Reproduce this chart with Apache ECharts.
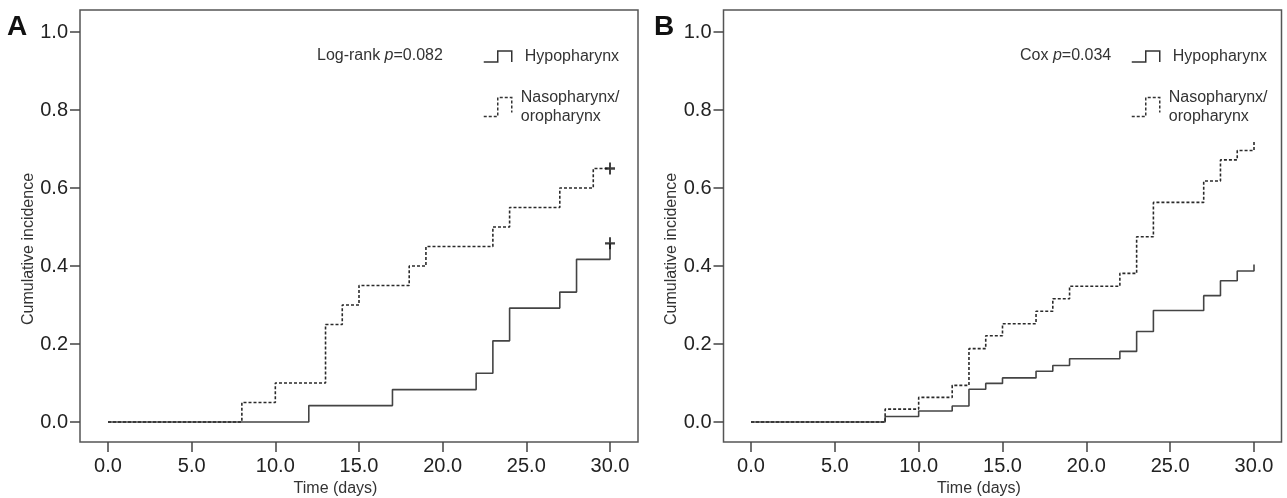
<!DOCTYPE html>
<html>
<head>
<meta charset="utf-8">
<script src="https://cdn.jsdelivr.net/npm/echarts@6/dist/echarts.min.js"></script>
<style>
  html, body { margin: 0; padding: 0; background: #fff; }
  #chart { width: 1287px; height: 498px; }
</style>
</head>
<body>
<div id="chart"></div>
<script>
// Panel A: Log-rank
const aHypoTime = [0, 12, 17, 22, 23, 24, 27, 28, 30];
const aHypoInc = [0, 0.042, 0.083, 0.125, 0.208, 0.292, 0.333, 0.417, 0.458];
const aNasoTime = [0, 8, 10, 13, 14, 15, 18, 19, 23, 24, 27, 29, 30];
const aNasoInc = [0, 0.05, 0.10, 0.25, 0.30, 0.35, 0.40, 0.45, 0.50, 0.55, 0.60, 0.65, 0.65];
const aCensored = [[30, 0.458], [30, 0.65]];

// Panel B: Cox
const bHypoTime = [0, 8, 10, 12, 13, 14, 15, 17, 18, 19, 22, 23, 24, 27, 28, 29, 30];
const bHypoInc = [0, 0.014, 0.028, 0.041, 0.084, 0.099, 0.113, 0.130, 0.145, 0.162, 0.181, 0.232, 0.286, 0.324, 0.362, 0.387, 0.404];
const bNasoTime = [0, 8, 10, 12, 13, 14, 15, 17, 18, 19, 22, 23, 24, 27, 28, 29, 30];
const bNasoInc = [0, 0.033, 0.063, 0.094, 0.188, 0.221, 0.252, 0.284, 0.316, 0.348, 0.381, 0.475, 0.563, 0.618, 0.672, 0.696, 0.722];

// tick labels
const xTickValues = [0, 5, 10, 15, 20, 25, 30];
const yTickValues = [0, 0.2, 0.4, 0.6, 0.8, 1.0];

const FONT = 'Liberation Sans, Arial, sans-serif';
const INK = '#333';
const plusPath = 'path://M4,0 L6,0 L6,4 L10,4 L10,6 L6,6 L6,10 L4,10 L4,6 L0,6 L0,4 L4,4 Z';
const solidIcon = 'path://M0,11 L14,11 L14,0 L28,0 L28,11';
const dashIcon = 'path://M0,19 L14,19 L14,0 L28,0 L28,15';

const zip = (t, v) => t.map((x, i) => [x, v[i]]);

let chart = echarts.init(document.getElementById('chart'), null, { renderer: 'canvas' });

// the grid border is the box round each panel; axes are padded so 0..30 / 0..1 sit inside
const grids = [
  { left: 80, top: 10, width: 558, height: 432, outerBoundsMode: 'none', show: true, borderColor: '#555', borderWidth: 1.5, backgroundColor: 'transparent' },
  { left: 723.5, top: 10, width: 558, height: 432, outerBoundsMode: 'none', show: true, borderColor: '#555', borderWidth: 1.5, backgroundColor: 'transparent' }
];

function xAxisFor(gi, min, max) {
  return {
    type: 'value', gridIndex: gi, min, max,
    name: 'Time (days)', nameLocation: 'middle', nameGap: 38,
    nameTextStyle: { fontFamily: FONT, fontSize: 16, color: INK, padding: [0, 47, 0, 0] },
    axisLine: { show: false, onZero: false },
    axisTick: { show: true, length: 10, customValues: xTickValues, lineStyle: { color: '#444', width: 1.5 } },
    axisLabel: { fontFamily: FONT, fontSize: 20, color: '#222', margin: 14, customValues: xTickValues, formatter: v => v.toFixed(1) },
    splitLine: { show: false }
  };
}
function yAxisFor(gi) {
  return {
    type: 'value', gridIndex: gi, min: -0.0513, max: 1.0564,
    name: 'Cumulative incidence', nameLocation: 'middle', nameGap: 42,
    nameTextStyle: { fontFamily: FONT, fontSize: 16, color: INK, padding: [0, 46, 0, 0] },
    axisLine: { show: false, onZero: false },
    axisTick: { show: true, length: 10, customValues: yTickValues, lineStyle: { color: '#444', width: 1.5 } },
    axisLabel: { fontFamily: FONT, fontSize: 20, color: '#222', margin: 12, customValues: yTickValues, formatter: v => v.toFixed(1) },
    splitLine: { show: false }
  };
}

function stepLine(name, data, gi, dashed) {
  return {
    type: 'line', name, xAxisIndex: gi, yAxisIndex: gi, data, step: 'end',
    symbol: 'none', silent: true, z: dashed ? 3 : 2,
    lineStyle: { color: dashed ? '#2a2a2a' : '#444', width: 1.6, type: dashed ? [3, 2] : 'solid' }
  };
}

function legendFor(left, top, name, icon, w, h, dashed, gap) {
  return {
    left, top, padding: 0, orient: 'vertical', selectedMode: false,
    data: [name], icon, itemWidth: w, itemHeight: h,
    itemStyle: { color: 'transparent', borderColor: '#333', borderWidth: 1.5, borderType: dashed ? [3, 2] : 'solid' },
    textStyle: { fontFamily: FONT, fontSize: 16, color: INK, lineHeight: 19, padding: [0, 0, 0, gap] }
  };
}

const annStyle = {
  fontFamily: FONT, fontSize: 16, color: INK, fontWeight: 'normal',
  rich: {
    a: { fontFamily: FONT, fontSize: 16, color: INK, fontWeight: 'normal' },
    i: { fontFamily: FONT, fontSize: 16, color: INK, fontWeight: 'normal', fontStyle: 'italic' }
  }
};

chart.setOption({
  animation: false,
  backgroundColor: '#fff',
  title: [
    { text: 'A', left: 7, top: 13, padding: 0, textStyle: { fontFamily: FONT, fontSize: 28, fontWeight: 'bold', color: '#111' } },
    { text: 'B', left: 654, top: 13, padding: 0, textStyle: { fontFamily: FONT, fontSize: 28, fontWeight: 'bold', color: '#111' } },
    { text: '{a|Log-rank }{i|p}{a|=0.082}', left: 317, top: 48, padding: 0, textStyle: annStyle },
    { text: '{a|Cox }{i|p}{a|=0.034}', left: 1020, top: 48, padding: 0, textStyle: annStyle }
  ],
  legend: [
    legendFor(483, 47, 'Hypopharynx', solidIcon, 28, 11, false, 8),
    legendFor(483, 88, 'Nasopharynx/\noropharynx', dashIcon, 28, 19, true, 4),
    legendFor(1131, 47, 'Hypopharynx', solidIcon, 28, 11, false, 8),
    legendFor(1131, 88, 'Nasopharynx/\noropharynx', dashIcon, 28, 19, true, 4)
  ],
  grid: grids,
  xAxis: [xAxisFor(0, -1.673, 31.673), xAxisFor(1, -1.640, 31.640)],
  yAxis: [yAxisFor(0), yAxisFor(1)],
  series: [
    stepLine('Hypopharynx', zip(aHypoTime, aHypoInc), 0, false),
    stepLine('Nasopharynx/\noropharynx', zip(aNasoTime, aNasoInc), 0, true),
    {
      type: 'scatter', name: 'censored', xAxisIndex: 0, yAxisIndex: 0, data: aCensored,
      symbol: plusPath, symbolSize: [10, 12], itemStyle: { color: '#111' }, silent: true, z: 4
    },
    stepLine('Hypopharynx', zip(bHypoTime, bHypoInc), 1, false),
    stepLine('Nasopharynx/\noropharynx', zip(bNasoTime, bNasoInc), 1, true)
  ]
});
</script>
</body>
</html>
